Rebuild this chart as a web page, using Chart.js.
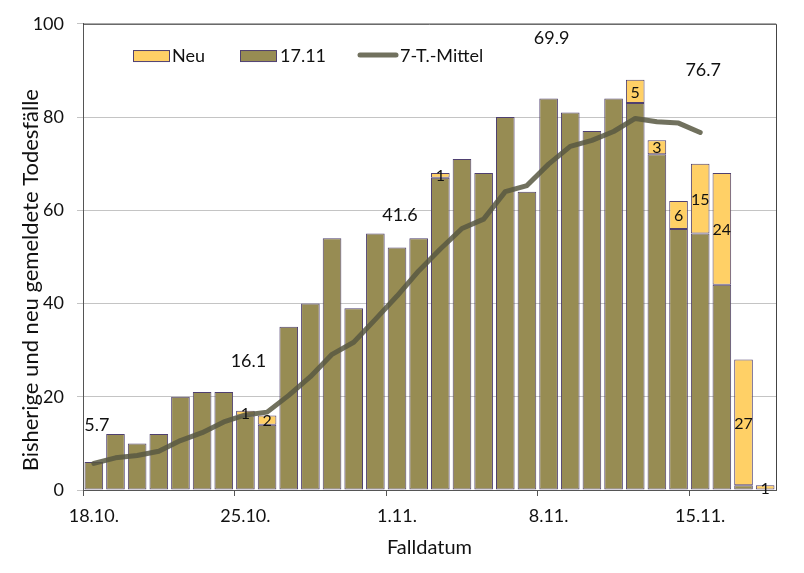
<!DOCTYPE html>
<html>
<head>
<meta charset="utf-8">
<script src="https://cdn.jsdelivr.net/npm/chart.js@4.4.0/dist/chart.umd.min.js"></script>
<style>
  html, body { margin: 0; padding: 0; background: #fff; }
  #wrap { width: 804px; height: 573px; position: relative; }
</style>
</head>
<body>
<div id="wrap"><canvas id="faelle"></canvas></div>
<script>
// Falldatum 18.10. - 18.11.
const dates = ["18.10.","19.10.","20.10.","21.10.","22.10.","23.10.","24.10.","25.10.","26.10.","27.10.",
               "28.10.","29.10.","30.10.","31.10.","1.11.","2.11.","3.11.","4.11.","5.11.","6.11.",
               "7.11.","8.11.","9.11.","10.11.","11.11.","12.11.","13.11.","14.11.","15.11.","16.11.",
               "17.11.","18.11."];
const tickLabels = ["18.10.","25.10.","1.11.","8.11.","15.11."];

// bisherige Todesfälle (Stand 17.11)
const stand1711 = [6,12,10,12,20,21,21,16,14,35,40,54,39,55,52,54,67,71,68,80,64,84,81,77,84,83,72,56,55,44,1,0];
// neu gemeldet
const neu = [0,0,0,0,0,0,0,1,2,0,0,0,0,0,0,0,1,0,0,0,0,0,0,0,0,5,3,6,15,24,27,1];
// 7-Tage-Mittel
const mittel = [5.7,6.9,7.4,8.3,10.6,12.3,14.6,16.1,16.7,20.3,24.3,29.1,31.7,36.6,41.6,47.0,51.7,56.1,
                58.1,64.0,65.3,69.9,73.7,75.0,76.9,79.7,79.0,78.7,76.7,null,null,null];
// beschriftete Mittelwerte
const mittelLabelDates = ["18.10.","25.10.","1.11.","8.11.","15.11."];
const mittelLabelHeights = [13.8,27.6,59,97,90];

const FONT = "Lato";
const OLIVE = "#978c53";
const YELLOW = "#ffd066";
const EDGE = "#4f4070";
const LINE = "rgba(88,88,66,0.85)";
const Y_TITLE = "Bisherige und neu gemeldete Todesfälle";

const extras = {
  id: "extras",
  afterDatasetsDraw(chart) {
    const c = chart.ctx;
    const a = chart.chartArea;
    const x = chart.scales.x, y = chart.scales.y;
    c.save();
    // frame
    c.strokeStyle = "#444";
    c.lineWidth = 1;
    c.beginPath();
    c.moveTo(a.left, a.top + 0.5);
    c.lineTo(a.right + 0.5, a.top + 0.5);
    c.lineTo(a.right + 0.5, a.bottom);
    c.stroke();

    c.fillStyle = "#111";
    c.textAlign = "center";
    c.textBaseline = "middle";
    // values of new cases
    c.font = "16px " + FONT;
    const meta = chart.getDatasetMeta(2);
    meta.data.forEach((bar, i) => {
      if (!neu[i]) return;
      c.fillText(String(neu[i]), bar.x, (bar.y + bar.base) / 2 + 1);
    });
    // mean labels
    c.font = "18px " + FONT;
    mittelLabelDates.forEach((d, i) => {
      const idx = dates.indexOf(d);
      c.fillText(mittel[idx].toFixed(1), x.getPixelForValue(idx) + 3, y.getPixelForValue(mittelLabelHeights[i]));
    });

    // y title (sits a bit below the middle of the axis)
    c.save();
    c.translate(31, y.getPixelForValue(45));
    c.rotate(-Math.PI / 2);
    c.font = "22px " + FONT;
    c.fillText(Y_TITLE, 0, 0);
    c.restore();

    // legend
    const ly = y.getPixelForValue(93.3);
    c.textAlign = "left";
    c.lineWidth = 1;
    c.strokeStyle = EDGE;
    c.fillStyle = YELLOW;
    c.fillRect(133, ly - 5, 36, 11);
    c.strokeRect(133.5, ly - 4.5, 36, 11);
    c.fillStyle = OLIVE;
    c.fillRect(240, ly - 5, 36, 11);
    c.strokeRect(240.5, ly - 4.5, 36, 11);
    c.strokeStyle = LINE;
    c.lineWidth = 5;
    c.lineCap = "round";
    c.beginPath();
    c.moveTo(360, ly);
    c.lineTo(396, ly);
    c.stroke();
    c.fillStyle = "#111";
    c.fillText("Neu", 172, ly + 1);
    c.fillText("17.11", 280, ly + 1);
    c.fillText("7-T.-Mittel", 400, ly + 1);
    c.restore();
  }
};

new Chart(document.getElementById("faelle"), {
  type: "bar",
  data: {
    labels: dates,
    datasets: [
      {
        type: "line",
        label: "7-T.-Mittel",
        data: mittel,
        borderColor: LINE,
        borderWidth: 5,
        pointRadius: 0,
        tension: 0,
        borderCapStyle: "round",
        borderJoinStyle: "round",
        order: 0
      },
      {
        label: "17.11",
        data: stand1711,
        backgroundColor: OLIVE,
        borderColor: EDGE,
        borderWidth: 1,
        borderSkipped: false,
        barPercentage: 0.86,
        categoryPercentage: 1,
        order: 1
      },
      {
        label: "Neu",
        data: neu,
        backgroundColor: YELLOW,
        borderColor: EDGE,
        borderWidth: 1,
        borderSkipped: false,
        barPercentage: 0.86,
        categoryPercentage: 1,
        order: 2
      }
    ]
  },
  options: {
    responsive: true,
    maintainAspectRatio: false,
    animation: false,
    layout: { padding: { left: 0, right: 28, top: 21, bottom: 0 } },
    plugins: {
      legend: { display: false },
      tooltip: { enabled: false }
    },
    scales: {
      x: {
        stacked: true,
        afterFit: (s) => { s.height = 83; },
        grid: {
          offset: true,
          drawOnChartArea: false,
          tickLength: 6,
          color: (ctx) => (tickLabels.includes(dates[ctx.index]) ? "#555" : "rgba(0,0,0,0)")
        },
        border: { color: "#555" },
        ticks: {
          autoSkip: false,
          maxRotation: 0,
          padding: 9,
          color: "#111",
          font: { family: FONT, size: 18 },
          callback: (v, i) => (tickLabels.includes(dates[i]) ? dates[i] : "")
        },
        title: {
          display: true,
          text: "Falldatum",
          color: "#111",
          font: { family: FONT, size: 20 },
          padding: { top: 0, bottom: 13 }
        }
      },
      y: {
        stacked: true,
        min: 0,
        max: 100,
        afterFit: (s) => { s.width = 83; },
        ticks: {
          stepSize: 20,
          padding: 13,
          color: "#111",
          font: { family: FONT, size: 18 }
        },
        grid: { color: "#c4c4c4", tickLength: 6 },
        border: { color: "#555" }
      }
    }
  },
  plugins: [extras]
});
</script>
</body>
</html>
